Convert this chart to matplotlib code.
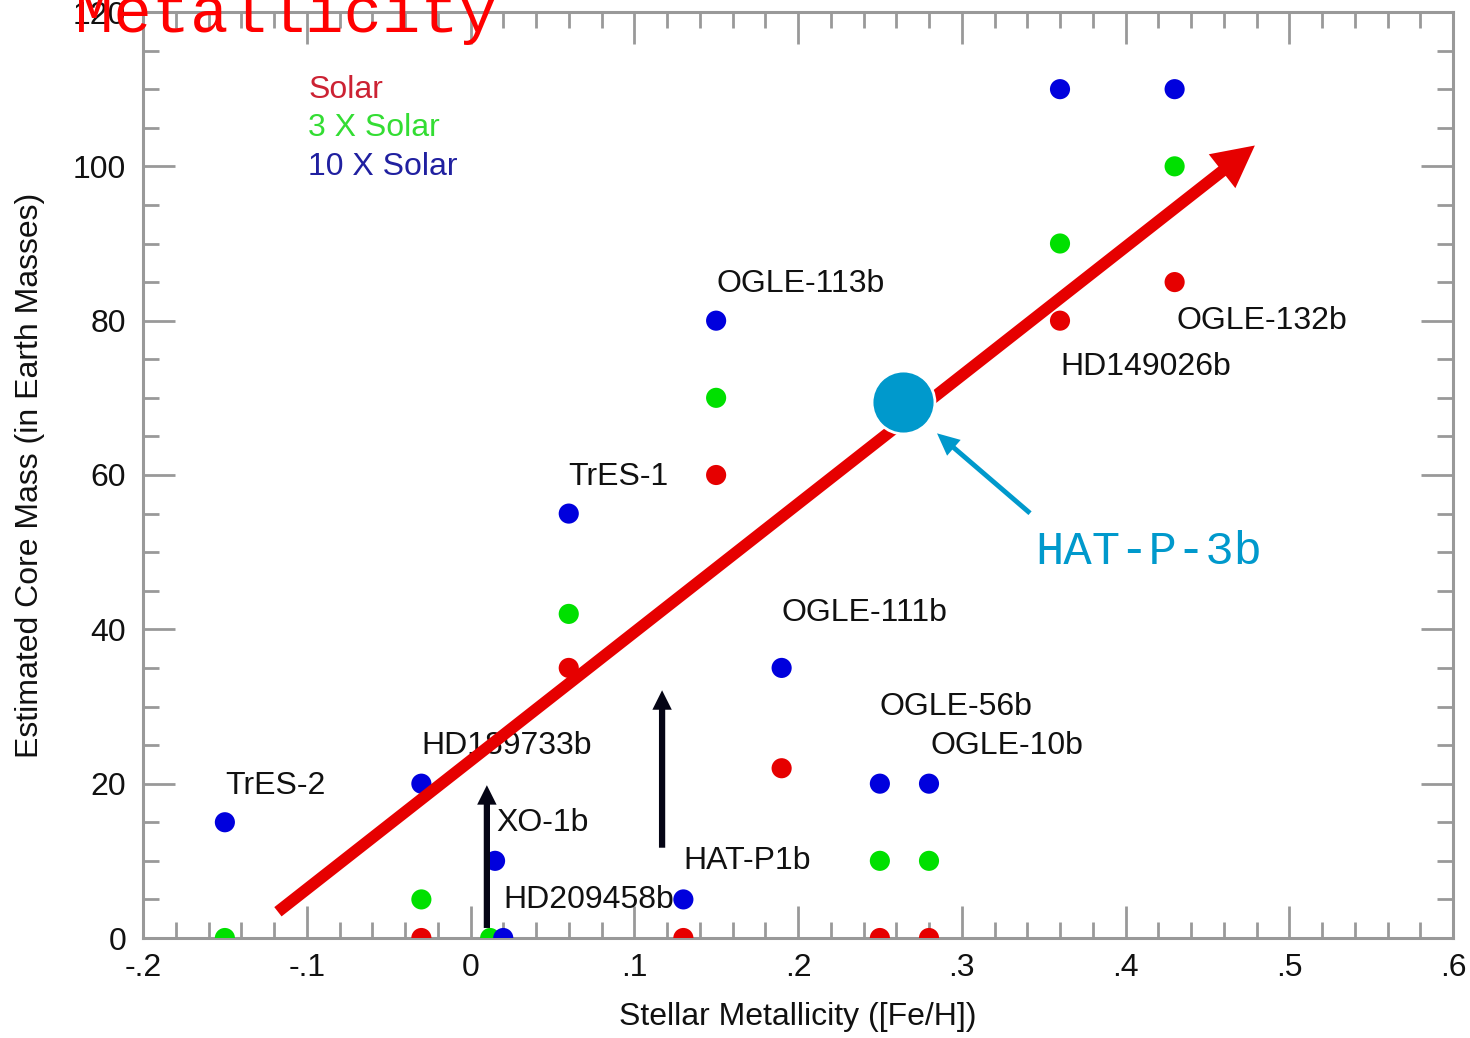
import numpy as np
import matplotlib.pyplot as plt
from matplotlib.ticker import MultipleLocator, FixedLocator, FixedFormatter

# ----- data -----
planets = ['TrES-2', 'HD189733b', 'XO-1b', 'HD209458b', 'TrES-1', 'HAT-P1b',
           'OGLE-113b', 'OGLE-111b', 'OGLE-56b', 'OGLE-10b', 'HD149026b', 'OGLE-132b']
feh = [-0.15, -0.03, 0.015, 0.02, 0.06, 0.13, 0.15, 0.19, 0.25, 0.28, 0.36, 0.43]

# core mass (Earth masses) for each opacity model, NaN where no point
core_solar = [np.nan, 0, np.nan, np.nan, 35, 0, 60, 22, 0, 0, 80, 85]
core_3x = [0, 5, 0, np.nan, 42, np.nan, 70, np.nan, 10, 10, 90, 100]
core_10x = [15, 20, 10, 0, 55, 5, 80, 35, 20, 20, 110, 110]
green_x = [-0.15, -0.03, 0.012, 0.02, 0.06, 0.13, 0.15, 0.19, 0.25, 0.28, 0.36, 0.43]

# planet name positions
label_x = [-0.15, -0.03, 0.0155, 0.02, 0.0595, 0.13, 0.1505, 0.19, 0.25, 0.281, 0.36, 0.431]
label_y = [19.7, 24.9, 14.9, 4.9, 59.7, 10.0, 84.8, 42.1, 29.9, 24.9, 74.0, 79.9]

# HAT-P-3b
hatp3_feh = 0.264
hatp3_core = 69.4

xticks = [-0.2, -0.1, 0, 0.1, 0.2, 0.3, 0.4, 0.5, 0.6]
xticklabels = ['-.2', '-.1', '0', '.1', '.2', '.3', '.4', '.5', '.6']
yticks = [0, 20, 40, 60, 80, 100, 120]

RED = '#E60000'
GREEN = '#00E000'
BLUE = '#0000DD'
CYAN = '#0099CC'
GRAY = '#999999'
FS = 23

plt.rcParams['font.family'] = ['Liberation Sans', 'DejaVu Sans']

fig = plt.figure(figsize=(14.7, 10.38), dpi=100)
ax = fig.add_axes([143 / 1470, 100 / 1038, 1310 / 1470, 926 / 1038])
ax.set_xlim(-0.2, 0.6)
ax.set_ylim(0, 120)

ms = 210
ax.scatter(feh, core_solar, s=ms, color=RED, edgecolors='none', zorder=3)
ax.scatter(green_x, core_3x, s=ms, color=GREEN, edgecolors='none', zorder=4)
ax.scatter(feh, core_10x, s=ms, color=BLUE, edgecolors='none', zorder=5)

for name, lx, ly in zip(planets, label_x, label_y):
    ax.text(lx, ly, name, fontsize=FS, color='#111111', ha='left', va='center', zorder=6)

# legend as coloured text
ax.text(0.126, 0.916, 'Solar', transform=ax.transAxes, fontsize=FS, color='#CC2233', va='center')
ax.text(0.126, 0.875, '3 X Solar', transform=ax.transAxes, fontsize=FS, color='#33DD33', va='center')
ax.text(0.126, 0.833, '10 X Solar', transform=ax.transAxes, fontsize=FS, color='#2020A0', va='center')

# trend arrow
ax.annotate('', xy=(0.479, 102.7), xytext=(-0.1176, 3.4),
            arrowprops=dict(arrowstyle='simple,head_length=3.0,head_width=3.1,tail_width=0.85',
                            mutation_scale=10, color=RED, lw=0, shrinkA=0, shrinkB=0),
            zorder=7)

# lower-limit arrows
for x0, y0, y1 in [(0.01, 1.3, 19.8), (0.117, 11.7, 32.1)]:
    ax.annotate('', xy=(x0, y1), xytext=(x0, y0),
                arrowprops=dict(arrowstyle='simple,head_length=1.4,head_width=1.4,tail_width=0.45',
                                mutation_scale=10, color='#050515', lw=0, shrinkA=0, shrinkB=0),
                zorder=7)

# HAT-P-3b marker and callout
ax.scatter([hatp3_feh], [hatp3_core], s=2050, color=CYAN, edgecolors='white',
           linewidths=2, zorder=8)
ax.annotate('', xy=(0.2849, 65.4), xytext=(0.3417, 55.05),
            arrowprops=dict(arrowstyle='simple,head_length=1.6,head_width=1.5,tail_width=0.35',
                            mutation_scale=10, color=CYAN, lw=0, shrinkA=0, shrinkB=0),
            zorder=8)
ax.text(0.3447, 50.0, 'HAT-P-3b', fontsize=34, family='Liberation Mono',
        color=CYAN, ha='left', va='center', zorder=8)

# axes styling
ax.xaxis.set_major_locator(FixedLocator(xticks))
ax.xaxis.set_major_formatter(FixedFormatter(xticklabels))
ax.xaxis.set_minor_locator(MultipleLocator(0.02))
ax.yaxis.set_major_locator(FixedLocator(yticks))
ax.yaxis.set_minor_locator(MultipleLocator(5))
ax.tick_params(which='both', direction='in', top=True, right=True, color=GRAY,
               width=2, labelsize=FS, labelcolor='#111111')
ax.tick_params(which='major', length=23)
ax.tick_params(which='minor', length=11.5)
ax.tick_params(axis='x', pad=11)
ax.tick_params(axis='y', pad=12)
for sp in ax.spines.values():
    sp.set_color(GRAY)
    sp.set_linewidth(2.2)

fig.text(798 / 1470, 1 - 1017 / 1038, 'Stellar Metallicity ([Fe/H])', fontsize=FS,
         color='#111111', ha='center', va='center')
fig.text(30 / 1470, 1 - 475 / 1038, 'Estimated Core Mass (in Earth Masses)', fontsize=FS,
         color='#111111', ha='center', va='center', rotation=90)

fig.text(75 / 1470, 1 - 32 / 1038, 'Metallicity', fontsize=46, family='Liberation Mono',
         color='red', ha='left', va='baseline')

fig.savefig('out.png', dpi=100, facecolor='white')
